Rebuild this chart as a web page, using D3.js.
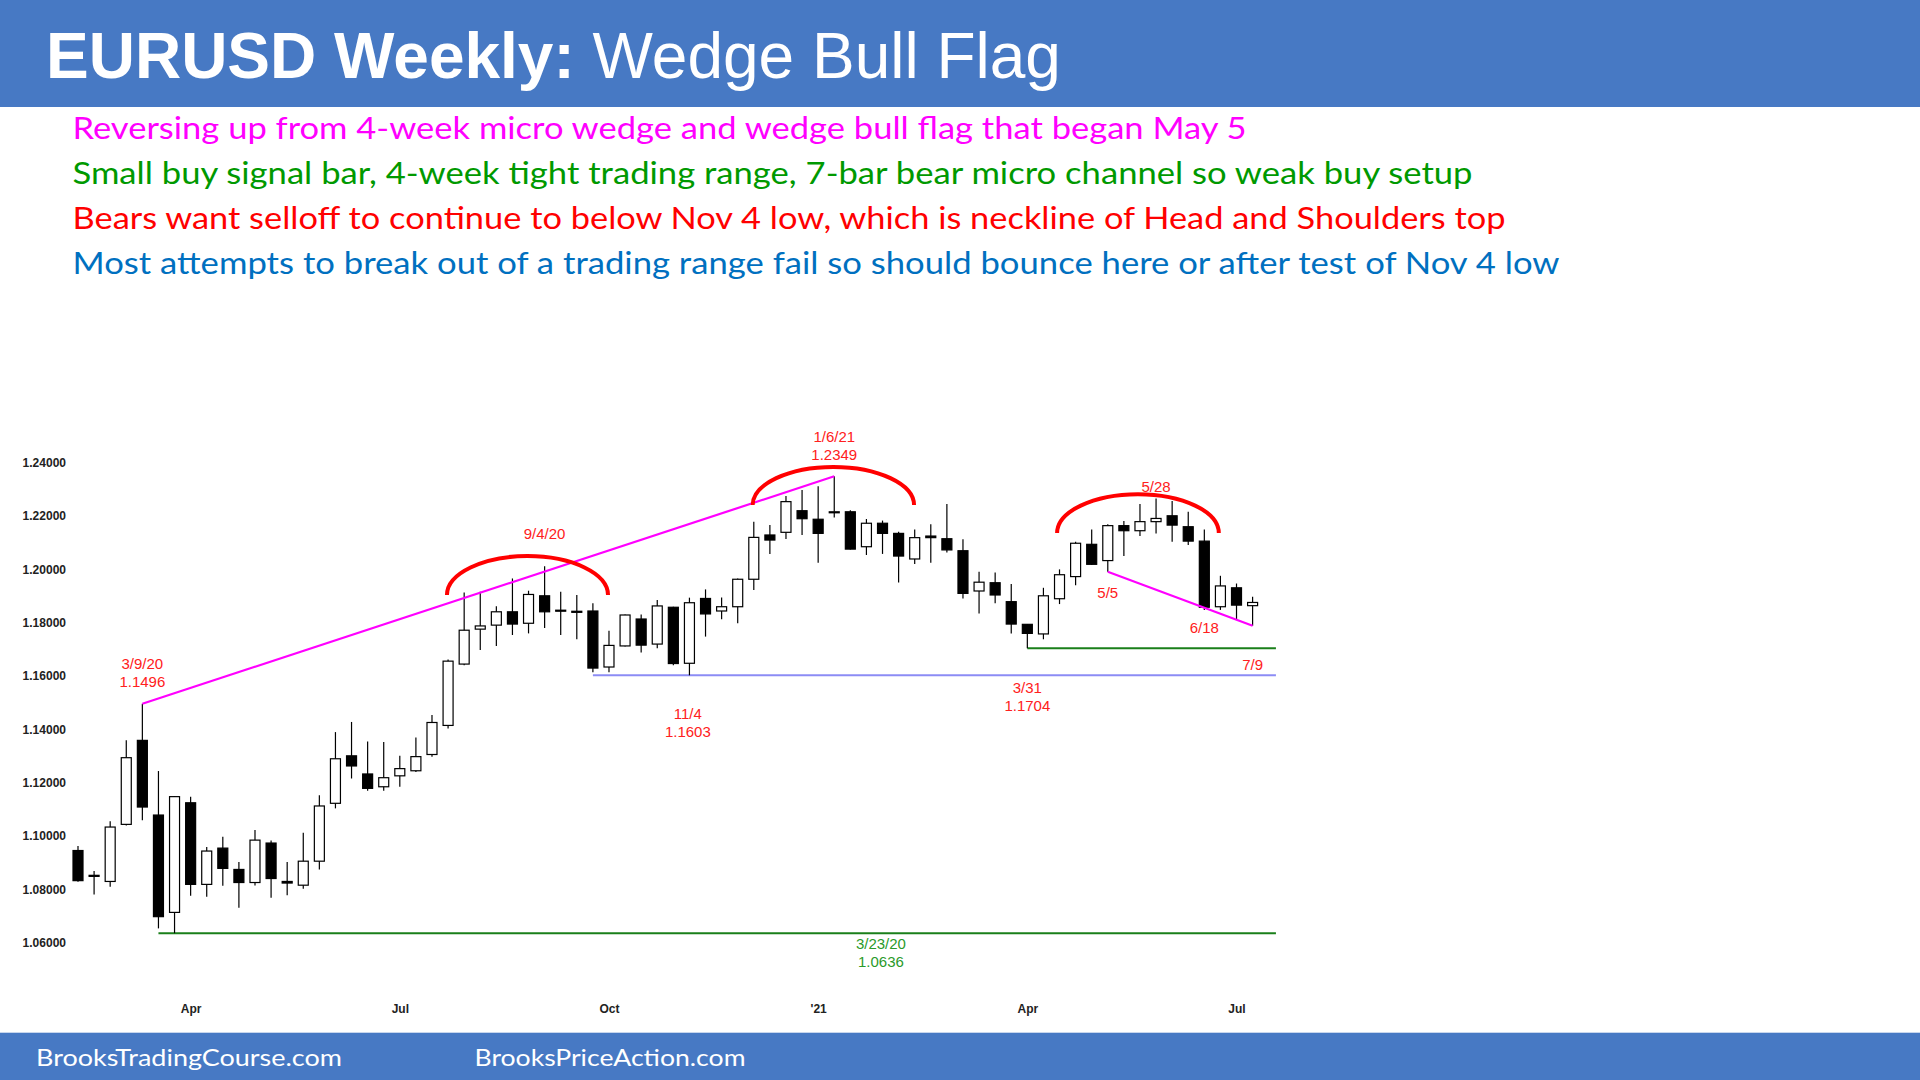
<!DOCTYPE html>
<html><head><meta charset="utf-8">
<script src="https://cdn.jsdelivr.net/npm/d3@7/dist/d3.min.js"></script>
<style>
html,body{margin:0;padding:0;background:#fff;}
svg{display:block;}
</style></head>
<body>
<svg id="chart" width="1920" height="1080"></svg>
<script>
// ---- data (weekly EURUSD, week index 0 = week of 2/10/20) ----
const opens  = [1.0946,1.0849,1.0830,1.1044,1.1359,1.1079,1.0714,1.1125,1.0819,1.0955,1.0875,1.0826,1.0974,1.0830,1.0816,1.0906,1.1123,1.1301,1.1233,1.1185,1.1226,1.1245,1.1306,1.1415,1.1645,1.1776,1.1791,1.1841,1.1798,1.1901,1.1847,1.1843,1.1844,1.1634,1.1713,1.1814,1.1720,1.1858,1.1648,1.1891,1.1844,1.1860,1.1963,1.2129,1.2139,1.2220,1.2188,1.2213,1.2216,1.2085,1.2173,1.2135,1.2039,1.2125,1.2115,1.2070,1.1919,1.1950,1.1879,1.1794,1.1758,1.1890,1.1973,1.2094,1.2033,1.2164,1.2145,1.2179,1.2201,1.2160,1.2106,1.1860,1.1931,1.1864];
const highs  = [1.0963,1.0869,1.1056,1.1359,1.1496,1.1244,1.1150,1.1148,1.0959,1.0998,1.0903,1.1023,1.0984,1.0903,1.1013,1.1153,1.1390,1.1428,1.1355,1.1353,1.1301,1.1370,1.1454,1.1662,1.1913,1.1916,1.1862,1.1966,1.1920,1.2012,1.1916,1.1904,1.1873,1.1770,1.1831,1.1831,1.1885,1.1860,1.1894,1.1925,1.1895,1.1966,1.2179,1.2166,1.2275,1.2298,1.2312,1.2349,1.2222,1.2189,1.2183,1.2141,1.2150,1.2169,1.2245,1.2113,1.1991,1.1988,1.1945,1.1795,1.1931,1.2000,1.2104,1.2150,1.2169,1.2181,1.2245,1.2266,1.2256,1.2216,1.2150,1.1976,1.1947,1.1897];
const lows   = [1.0829,1.0781,1.0810,1.1040,1.1059,1.0654,1.0636,1.0776,1.0773,1.0814,1.0731,1.0815,1.0769,1.0778,1.0803,1.0875,1.1104,1.1216,1.1170,1.1170,1.1185,1.1240,1.1298,1.1403,1.1641,1.1698,1.1713,1.1754,1.1760,1.1780,1.1754,1.1738,1.1614,1.1614,1.1711,1.1688,1.1704,1.1641,1.1603,1.1748,1.1813,1.1798,1.1923,1.2058,1.2114,1.2129,1.2025,1.2195,1.2075,1.2054,1.2058,1.1951,1.2020,1.2025,1.2063,1.1891,1.1835,1.1873,1.1760,1.1704,1.1738,1.1870,1.1941,1.2016,1.1991,1.2050,1.2125,1.2135,1.2104,1.2091,1.1848,1.1848,1.1814,1.1789];
const closes = [1.0833,1.0853,1.1034,1.1294,1.1109,1.0698,1.1148,1.0819,1.0944,1.0879,1.0826,1.0985,1.0841,1.0824,1.0906,1.1113,1.1290,1.1263,1.1179,1.1219,1.1253,1.1298,1.1426,1.1656,1.1772,1.1788,1.1841,1.1795,1.1906,1.1841,1.1844,1.1839,1.1630,1.1715,1.1829,1.1716,1.1863,1.1647,1.1875,1.1833,1.1860,1.1963,1.2120,1.2110,1.2254,1.2190,1.2135,1.2216,1.2076,1.2173,1.2135,1.2050,1.2119,1.2119,1.2073,1.1910,1.1952,1.1904,1.1795,1.1760,1.1901,1.1980,1.2098,1.2019,1.2164,1.2145,1.2179,1.2191,1.2166,1.2106,1.1858,1.1938,1.1866,1.1876];

const yTicks = [1.06,1.08,1.10,1.12,1.14,1.16,1.18,1.20,1.22,1.24];
const monthTickIdx = [7,20,33,46,59,72];
const monthTickLabels = ["Apr","Jul","Oct","'21","Apr","Jul"];

const titleBold = "EURUSD Weekly:";
const titleRest = " Wedge Bull Flag";
const commentLines = [
  "Reversing up from 4-week micro wedge and wedge bull flag that began May 5",
  "Small buy signal bar, 4-week tight trading range, 7-bar bear micro channel so weak buy setup",
  "Bears want selloff to continue to below Nov 4 low, which is neckline of Head and Shoulders top",
  "Most attempts to break out of a trading range fail so should bounce here or after test of Nov 4 low"
];
const commentColors = ["#ff00ff","#009900","#ff0000","#0070c0"];
const commentWidths = [1174,1400,1433,1487];
const footerTexts = ["BrooksTradingCourse.com","BrooksPriceAction.com"];

// annotations (index, price)
const hsArcs = [ {i0:22.93,i1:32.94,p:1.1904,top:1.2050}, {i0:41.93,i1:51.96,p:1.2241,top:1.2384}, {i0:60.85,i1:70.90,p:1.2136,top:1.2282} ];
const levelLines = [
  {price:1.0636, i0:5, i1:74.45, color:"#1a7f1a"},
  {price:1.1603, i0:32, i1:74.45, color:"#8c8cf5"},
  {price:1.1704, i0:59, i1:74.45, color:"#1a7f1a"}
];
const redLabels = [
  {i:4,    y:1.1496, dy:-40,   lines:["3/9/20","1.1496"]},
  {i:29,   y:1.2050, dy:-22.7, lines:["9/4/20"]},
  {i:47,   y:1.2349, dy:-39.6, lines:["1/6/21","1.2349"]},
  {i:37.9, y:1.1603, dy:38.7,  lines:["11/4","1.1603"]},
  {i:59,   y:1.1704, dy:39.7,  lines:["3/31","1.1704"]},
  {i:64,   y:1.1991, dy:21.2,  lines:["5/5"]},
  {i:67,   y:1.2282, dy:-8,    lines:["5/28"]},
  {i:70,   y:1.1848, dy:18,    lines:["6/18"]},
  {i:73,   y:1.1704, dy:16.7,  lines:["7/9"]}
];
const greenLabel = {i:49.9, y:1.0636, dy:10.8, lines:["3/23/20","1.0636"]};

// ---- drawing ----
const svg = d3.select("#chart");
const x = d3.scaleLinear().domain([0,73]).range([78,1252.6]);
const y = d3.scaleLinear().domain([1.06,1.24]).range([942.8,462.7]);

// header / footer
svg.append("rect").attr("x",0).attr("y",0).attr("width",1920).attr("height",107).attr("fill","#4779c4");
svg.append("rect").attr("x",0).attr("y",1032.7).attr("width",1920).attr("height",48).attr("fill","#4779c4");
const t = svg.append("text").attr("x",46).attr("y",77.5).attr("fill","#fff")
  .attr("font-family","'Liberation Sans',Arial,sans-serif").attr("font-size",64);
t.append("tspan").attr("font-weight","bold").text(titleBold);
t.append("tspan").attr("xml:space","preserve").text(titleRest);

svg.selectAll("text.comment").data(commentLines).join("text").attr("class","comment")
  .attr("x",72.5).attr("y",(d,i)=>139.3+i*44.9)
  .attr("fill",(d,i)=>commentColors[i])
  .attr("font-family","Lato,'Open Sans',sans-serif").attr("font-size",31)
  .attr("textLength",(d,i)=>commentWidths[i]).attr("lengthAdjust","spacingAndGlyphs")
  .text(d=>d);

svg.selectAll("text.footer").data(footerTexts).join("text").attr("class","footer")
  .attr("x",(d,i)=>[36,474.5][i]).attr("y",1065.7).attr("fill","#fff")
  .attr("font-family","Lato,'Open Sans',sans-serif").attr("font-size",23)
  .attr("textLength",(d,i)=>[306,271][i]).attr("lengthAdjust","spacingAndGlyphs")
  .text(d=>d);

// axes
const yAxis = d3.axisLeft(y).tickValues(yTicks).tickFormat(d3.format(".5f")).tickSize(0).tickPadding(0);
const gy = svg.append("g").attr("transform","translate(66,0)").call(yAxis);
gy.select(".domain").remove();
gy.selectAll("text").attr("font-family","'Liberation Sans',Arial,sans-serif").attr("font-size",12).attr("font-weight","bold").attr("fill","#222");

const xAxis = d3.axisBottom(x).tickValues(monthTickIdx).tickFormat((d,i)=>monthTickLabels[i]).tickSize(0).tickPadding(0);
const gx = svg.append("g").attr("transform","translate(0,1004)").call(xAxis);
gx.select(".domain").remove();
gx.selectAll("text").attr("font-family","'Liberation Sans',Arial,sans-serif").attr("font-size",12).attr("font-weight","bold").attr("fill","#222");

// level lines
svg.selectAll("line.level").data(levelLines).join("line").attr("class","level")
  .attr("x1",d=>x(d.i0)).attr("x2",d=>x(d.i1)).attr("y1",d=>y(d.price)).attr("y2",d=>y(d.price))
  .attr("stroke",d=>d.color).attr("stroke-width",2);

// candles
const bars = d3.range(opens.length).map(i=>({i,o:opens[i],h:highs[i],l:lows[i],c:closes[i]}));
const bw = 10;
const g = svg.append("g");
g.selectAll("line.wick").data(bars).join("line").attr("class","wick")
  .attr("x1",d=>x(d.i)).attr("x2",d=>x(d.i)).attr("y1",d=>y(d.h)).attr("y2",d=>y(d.l))
  .attr("stroke","#000").attr("stroke-width",1.2);
g.selectAll("rect.body").data(bars).join("rect").attr("class","body")
  .attr("x",d=>x(d.i)-bw/2).attr("width",bw)
  .attr("y",d=>y(Math.max(d.o,d.c)))
  .attr("height",d=>Math.max(1,Math.abs(y(d.o)-y(d.c))))
  .attr("fill",d=>d.c>=d.o?"#fff":"#000").attr("stroke","#000").attr("stroke-width",1.2);

// trend lines
svg.append("line").attr("x1",x(4)).attr("y1",y(highs[4])).attr("x2",x(47)).attr("y2",y(highs[47]))
  .attr("stroke","#ff00ff").attr("stroke-width",2.2);
svg.append("line").attr("x1",x(64)).attr("y1",y(lows[64])).attr("x2",x(73)).attr("y2",y(lows[73]))
  .attr("stroke","#ff00ff").attr("stroke-width",2.2);

// head & shoulders arcs
svg.selectAll("path.arc").data(hsArcs).join("path").attr("class","arc")
  .attr("d",d=>{const x0=x(d.i0),x1=x(d.i1),yy=y(d.p),rx=(x1-x0)/2,ry=y(d.p)-y(d.top);
    return `M${x0},${yy} A${rx},${ry} 0 0 1 ${x1},${yy}`;})
  .attr("fill","none").attr("stroke","#ff0000").attr("stroke-width",4);

// labels
function drawLabel(lab,color){
  const txt = svg.append("text").attr("text-anchor","middle").attr("fill",color)
    .attr("font-family","'Liberation Sans',Arial,sans-serif").attr("font-size",15);
  lab.lines.forEach((s,k)=>{
    txt.append("tspan").attr("x",x(lab.i)).attr("y",y(lab.y)+lab.dy+k*17.7+5.4).text(s);
  });
}
redLabels.forEach(l=>drawLabel(l,"#ff2020"));
drawLabel(greenLabel,"#2a9a2a");
</script>
</body></html>
